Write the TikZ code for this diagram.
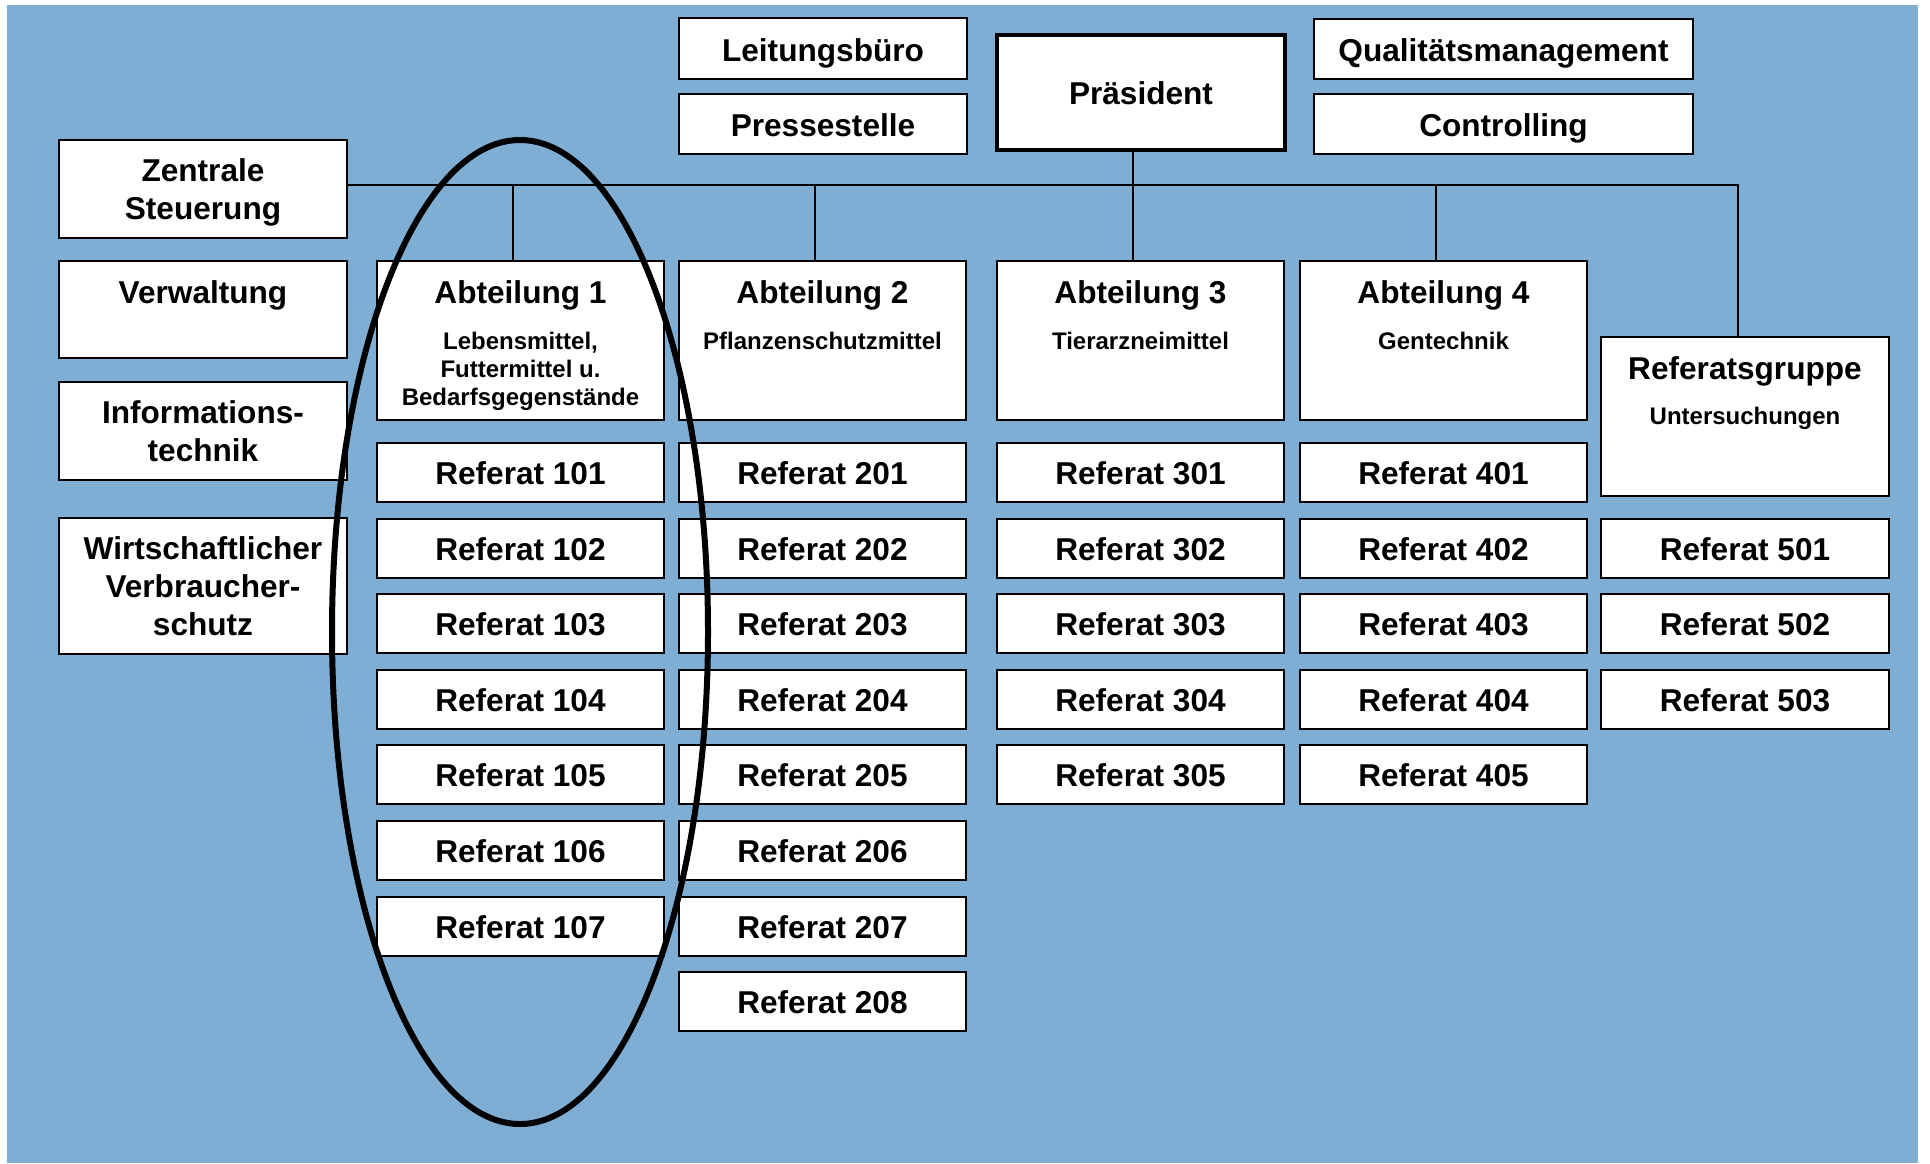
\documentclass[tikz,border=0pt]{standalone}
\usepackage{fontspec}
\setmainfont{Liberation Sans}
\definecolor{bg}{RGB}{127,174,213}
\tikzset{
  box/.style={draw=black, line width=2pt, fill=white, inner sep=0pt, align=center,
    text height=24pt, text depth=0pt,
    font=\fontsize{31.6}{38}\selectfont\bfseries},
  ref/.style={box, minimum width=287pt, minimum height=59pt},
  abt/.style={box, minimum width=287pt, minimum height=159pt},
  big/.style={inner sep=0pt, anchor=base, align=center, font=\fontsize{31.6}{38}\selectfont\bfseries},
  small/.style={inner sep=0pt, anchor=base, align=center, font=\fontsize{24}{28}\selectfont\bfseries},
  conn/.style={draw=black, line width=2pt}
}
\begin{document}
\begin{tikzpicture}[x=1pt,y=-1pt]
\useasboundingbox (0,0) rectangle (1930,1163);
\fill[white] (0,0) rectangle (1930,1163);
\fill[bg] (7,5) rectangle (1918,1163);

% left column
\node[box, text height=61pt, minimum width=288pt, minimum height=98pt] (zs) at (203,189) {Zentrale\\Steuerung};
\node[box, minimum width=288pt, minimum height=97pt] (verw) at (203,309.5) {};
\node[big] (verwt) at (203,303) {Verwaltung};
\node[box, text height=60.5pt, minimum width=288pt, minimum height=98pt] (it) at (203,431) {Informations-\\technik};
\node[box, text height=98.5pt, minimum width=288pt, minimum height=136pt] (wv) at (203,586) {Wirtschaftlicher\\Verbraucher-\\schutz};

% top
\node[box, text height=26pt, minimum width=288pt, minimum height=61pt] (lb) at (823,48.5) {Leitungsbüro};
\node[box, minimum width=288pt, minimum height=60pt] (ps) at (823,124) {Pressestelle};
\node[box, line width=4pt, minimum width=288pt, minimum height=115pt] (pres) at (1141,92) {Präsident};
\node[box, minimum width=379pt, minimum height=60pt] (qm) at (1503.5,49) {Qualitätsmanagement};
\node[box, minimum width=379pt, minimum height=60pt] (ctrl) at (1503.5,124) {Controlling};

% Abteilungen
\node[abt] (abt1) at (520.5,340.5) {};
\node[big] (abt1t) at (520.5,303) {Abteilung 1};
\node[small] (abt1s) at (520.5,405) {Lebensmittel,\\Futtermittel u.\\Bedarfsgegenstände};
\node[abt] (abt2) at (822.5,340.5) {};
\node[big] (abt2t) at (822.5,303) {Abteilung 2};
\node[small] (abt2s) at (822.5,349) {Pflanzenschutzmittel};
\node[abt] (abt3) at (1140.5,340.5) {};
\node[big] (abt3t) at (1140.5,303) {Abteilung 3};
\node[small] (abt3s) at (1140.5,349) {Tierarzneimittel};
\node[abt] (abt4) at (1443.5,340.5) {};
\node[big] (abt4t) at (1443.5,303) {Abteilung 4};
\node[small] (abt4s) at (1443.5,349) {Gentechnik};
\node[box, minimum width=288pt, minimum height=159pt] (rg) at (1745,416.5) {};
\node[big] (rgt) at (1745,379) {Referatsgruppe};
\node[small] (rgs) at (1745,424) {Untersuchungen};

% Referate
\foreach \i in {1,...,7} \node[ref] (r1\i) at (520.5,{472.5+75.6*(\i-1)}) {Referat 10\i};
\foreach \i in {1,...,8} \node[ref] (r2\i) at (822.5,{472.5+75.6*(\i-1)}) {Referat 20\i};
\foreach \i in {1,...,5} \node[ref] (r3\i) at (1140.5,{472.5+75.6*(\i-1)}) {Referat 30\i};
\foreach \i in {1,...,5} \node[ref] (r4\i) at (1443.5,{472.5+75.6*(\i-1)}) {Referat 40\i};
\foreach \i in {1,...,3} \node[ref, minimum width=288pt] (r5\i) at (1745,{548.1+75.6*(\i-1)}) {Referat 50\i};

% connectors
\coordinate (j1) at (513,185);
\coordinate (j2) at (815,185);
\coordinate (j3) at (1133,185);
\coordinate (j4) at (1436,185);
\coordinate (j5) at (1738,185);
\draw[conn] (zs.east |- j1) -- (j5) -- (j5 |- rg.north);
\draw[conn] (j1) -- (j1 |- abt1.north);
\draw[conn] (j2) -- (j2 |- abt2.north);
\draw[conn] (j3 |- pres.south) -- (j3 |- abt3.north);
\draw[conn] (j4) -- (j4 |- abt4.north);

% ellipse
\draw[line width=6pt] (520,632) ellipse [x radius=188pt, y radius=492pt];
\end{tikzpicture}
\end{document}
